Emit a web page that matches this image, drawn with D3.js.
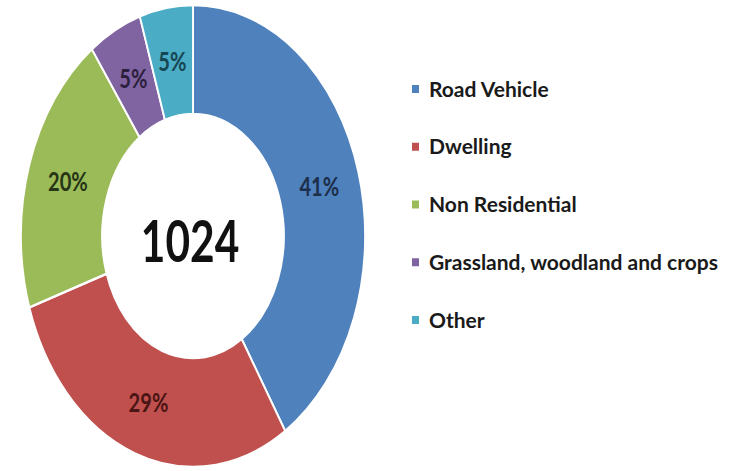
<!DOCTYPE html>
<html>
<head>
<meta charset="utf-8">
<script src="https://cdn.jsdelivr.net/npm/d3@7"></script>
<style>
  body { margin: 0; background: #fff; }
  text { font-family: Lato, "Open Sans", sans-serif; }
</style>
</head>
<body>
<div id="chart"></div>
<script>
// data
var categories = ["Road Vehicle", "Dwelling", "Non Residential", "Grassland, woodland and crops", "Other"];
var percents = [41, 29, 20, 5, 5];
var colors = ["#4f81bd", "#c0504d", "#9bbb59", "#8064a2", "#4bacc6"];
var labelColors = ["#1c2e4a", "#4a1514", "#263516", "#2c1f3d", "#164652"];
var total = "1024";

var width = 729, height = 471;
var cx = 193, cy = 236;
var squeeze = 0.745;   // the reference is squashed sideways
var outerR = 231, innerR = 122;

var svg = d3.select("#chart")
  .append("svg")
  .attr("width", width)
  .attr("height", height);

svg.append("rect").attr("width", width).attr("height", height).attr("fill", "#fff");

var data = categories.map(function(c, i) { return {name: c, value: percents[i], color: colors[i], lc: labelColors[i]}; });

var pie = d3.pie().sort(null).value(function(d) { return d.value; });
var arc = d3.arc().innerRadius(innerR).outerRadius(outerR);

var donut = svg.append("g")
  .attr("transform", "translate(" + cx + "," + cy + ") scale(" + squeeze + ",1)");

donut.selectAll("path.slice")
  .data(pie(data))
  .enter()
  .append("path")
  .attr("class", "slice")
  .attr("d", arc)
  .attr("fill", function(d) { return d.data.color; })
  .attr("stroke", "#fff")
  .attr("stroke-width", 2.5);

donut.selectAll("text.pct")
  .data(pie(data))
  .enter()
  .append("text")
  .attr("class", "pct")
  .attr("transform", function(d) { var c = arc.centroid(d); return "translate(" + c[0] + "," + c[1] + ")"; })
  .attr("text-anchor", "middle")
  .attr("dy", "0.36em")
  .style("font-size", "27px")
  .style("font-weight", "bold")
  .attr("fill", function(d) { return d.data.lc; })
  .text(function(d) { return d.data.value + "%"; });

donut.append("text")
  .attr("x", -4)
  .attr("y", 5)
  .attr("text-anchor", "middle")
  .attr("dy", "0.36em")
  .style("font-size", "57px")
  .style("font-weight", "bold")
  .attr("fill", "#111")
  .text(total);

// legend
var legend = svg.append("g").attr("transform", "translate(412,0)");
var rowY = d3.scalePoint().domain(categories).range([89, 320]);

var rows = legend.selectAll("g.row")
  .data(data)
  .enter()
  .append("g")
  .attr("class", "row")
  .attr("transform", function(d) { return "translate(0," + rowY(d.name) + ")"; });

rows.append("rect")
  .attr("x", 0).attr("y", -4)
  .attr("width", 7).attr("height", 8)
  .attr("fill", function(d) { return d.color; });

rows.append("text")
  .attr("transform", "translate(17,0)")
  .attr("dy", "0.36em")
  .style("font-size", "21px")
  .style("font-weight", "bold")
  .attr("fill", "#1a1a1a")
  .text(function(d) { return d.name; });
</script>
</body>
</html>
